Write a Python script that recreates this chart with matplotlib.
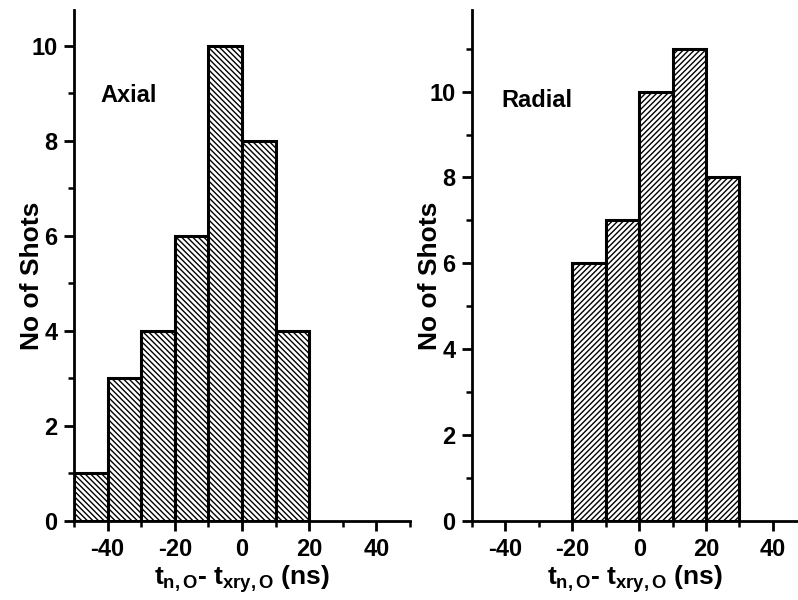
import matplotlib
matplotlib.use("Agg")
import matplotlib.pyplot as plt
from matplotlib.ticker import MultipleLocator

plt.rcParams['font.family'] = ['Liberation Sans', 'DejaVu Sans']
plt.rcParams['font.weight'] = 'bold'
plt.rcParams['axes.unicode_minus'] = False
plt.rcParams['mathtext.fontset'] = 'custom'
plt.rcParams['mathtext.rm'] = 'Liberation Sans:bold'
plt.rcParams['mathtext.it'] = 'Liberation Sans:bold'
plt.rcParams['mathtext.bf'] = 'Liberation Sans:bold'
plt.rcParams['hatch.linewidth'] = 1.0

# Data
axial_left_edges = [-50, -40, -30, -20, -10, 0, 10]
axial_counts = [1, 3, 4, 6, 10, 8, 4]
radial_left_edges = [-20, -10, 0, 10, 20]
radial_counts = [6, 7, 10, 11, 8]
bin_width = 10
x_label = r"$t_{n,O}$- $t_{xry,O}$ (ns)"
y_label = "No of Shots"

fig = plt.figure(figsize=(7.98, 6.0), dpi=100)
ax1 = fig.add_axes([0.0927, 0.1317, 0.5138 - 0.0927, 0.9833 - 0.1317])
ax2 = fig.add_axes([0.5915, 0.1317, 1.0 - 0.5915, 0.9833 - 0.1317])

def style(ax, xlim, ylim, label_x):
    ax.set_xlim(*xlim)
    ax.set_ylim(*ylim)
    for s in ['top', 'right']:
        ax.spines[s].set_visible(False)
    for s in ['left', 'bottom']:
        ax.spines[s].set_linewidth(2.0)
    ax.xaxis.set_major_locator(MultipleLocator(20))
    ax.xaxis.set_minor_locator(MultipleLocator(10))
    ax.yaxis.set_major_locator(MultipleLocator(2))
    ax.yaxis.set_minor_locator(MultipleLocator(1))
    ax.tick_params(which='major', direction='out', length=7, width=2, labelsize=17, pad=5)
    ax.tick_params(which='minor', direction='out', length=4, width=1.8)
    for lab in ax.get_xticklabels() + ax.get_yticklabels():
        lab.set_fontweight('bold')
    ax.set_xlabel(x_label, fontsize=19, fontweight='bold', labelpad=2)
    ax.set_ylabel(y_label, fontsize=19, fontweight='bold')
    ax.yaxis.set_label_coords(label_x, 0.48)

ax1.bar(axial_left_edges, axial_counts, width=bin_width, align='edge',
        facecolor='white', edgecolor='black', linewidth=2.2, hatch='\\\\\\\\\\\\')
style(ax1, (-50, 50), (0, 10.75), -0.09)
ax1.text(-42.2, 8.82, "Axial", fontsize=17, fontweight='bold', ha='left', va='baseline')

ax2.bar(radial_left_edges, radial_counts, width=bin_width, align='edge',
        facecolor='white', edgecolor='black', linewidth=2.2, hatch='//////')
style(ax2, (-50, 47.5), (0, 11.9), -0.093)
ax2.text(-41.3, 9.65, "Radial", fontsize=17, fontweight='bold', ha='left', va='baseline')

fig.savefig("out.png", dpi=100)
